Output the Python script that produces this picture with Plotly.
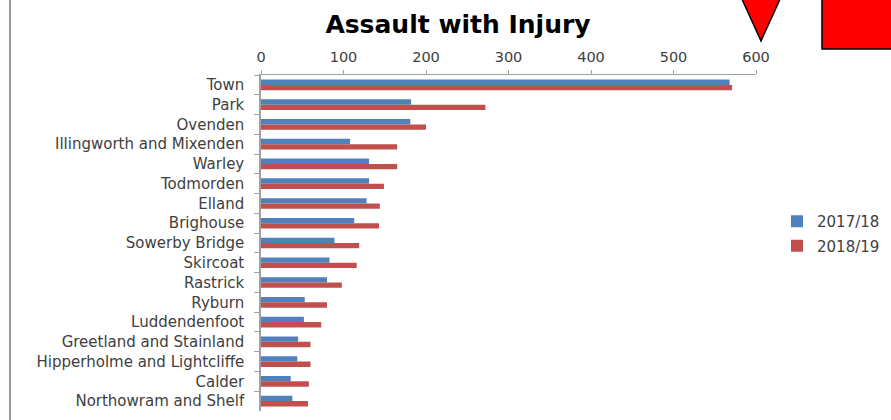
import plotly.graph_objects as go

# Ward-level counts of "Assault with Injury" offences
wards = [
    "Town", "Park", "Ovenden", "Illingworth and Mixenden", "Warley",
    "Todmorden", "Elland", "Brighouse", "Sowerby Bridge", "Skircoat",
    "Rastrick", "Ryburn", "Luddendenfoot", "Greetland and Stainland",
    "Hipperholme and Lightcliffe", "Calder", "Northowram and Shelf",
]
y2017_18 = [568, 182, 181, 108, 131, 131, 128, 113, 89, 83, 80, 53, 52, 45, 44, 36, 38]
y2018_19 = [571, 272, 200, 165, 165, 149, 144, 143, 119, 116, 98, 80, 73, 60, 60, 58, 57]
series_names = ["2017/18", "2018/19"]
x_ticks = [0, 100, 200, 300, 400, 500, 600]

W, H = 891, 420
ML, MR, MT, MB = 261, 135, 75, 9
PW, PH = W - ML - MR, H - MT - MB


def px(x):
    return (x - ML) / PW


def py(y):
    return (H - MB - y) / PH


fig = go.Figure()
fig.add_trace(go.Bar(y=wards, x=y2017_18, orientation="h", name=series_names[0],
                     marker=dict(color="#4F81BD", line=dict(width=0)),
                     legendgroup="a"))
fig.add_trace(go.Bar(y=wards, x=y2018_19, orientation="h", name=series_names[1],
                     marker=dict(color="#C0504D", line=dict(width=0)),
                     legendgroup="b"))

shapes = [
    # frame line on the left
    dict(type="line", xref="paper", yref="paper",
         x0=px(10), x1=px(10), y0=py(425), y1=py(-5),
         line=dict(color="#9a9a9a", width=2)),
    # red down-pointing marker
    dict(type="path", xref="paper", yref="paper",
         path=f"M {px(741)},{py(-3)} L {px(781)},{py(-3)} L {px(761)},{py(41)} Z",
         fillcolor="#FF0000", line=dict(color="#000000", width=1.5)),
    # red block at the top right
    dict(type="rect", xref="paper", yref="paper",
         x0=px(822), x1=px(895), y0=py(49), y1=py(-5),
         fillcolor="#FF0000", line=dict(color="#000000", width=1.5)),
]

fig.update_layout(
    width=W, height=H,
    margin=dict(l=ML, r=MR, t=MT, b=MB, autoexpand=False),
    paper_bgcolor="white", plot_bgcolor="white",
    barmode="group", bargap=0.46, bargroupgap=0,
    font=dict(family="DejaVu Sans", size=14, color="#404040"),
    title=dict(text="<b>Assault with Injury</b>", x=458 / W, xref="container",
               xanchor="center", y=1 - 24 / H, yanchor="middle",
               font=dict(family="DejaVu Sans", size=25, color="#000000")),
    xaxis=dict(side="top", range=[0, 600], tickvals=x_ticks, showgrid=False,
               zeroline=False, showline=True, linecolor="#a0a0a0", linewidth=1,
               ticks="outside", ticklen=4, tickcolor="#a0a0a0",
               ticklabelstandoff=2,
               tickfont=dict(size=14.5, color="#404040")),
    yaxis=dict(autorange="reversed", showgrid=False, showline=True,
               linecolor="#a0a0a0", linewidth=1.5, ticks="outside", ticklen=5,
               tickcolor="#a0a0a0", tickson="boundaries", ticklabelstandoff=12,
               tickfont=dict(size=15, color="#404040")),
    legend=dict(x=px(777), y=py(205), xanchor="left", yanchor="top",
                traceorder="grouped", tracegroupgap=2,
                font=dict(size=15, color="#404040"), bgcolor="rgba(0,0,0,0)"),
    shapes=shapes,
)

fig.write_html("out.html")
